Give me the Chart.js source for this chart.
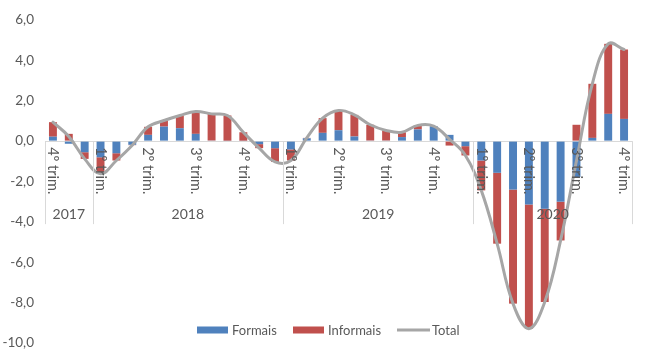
<!DOCTYPE html>
<html>
<head>
<meta charset="utf-8">
<script src="https://cdn.jsdelivr.net/npm/chart.js@4/dist/chart.umd.min.js"></script>
<style>
html,body{margin:0;padding:0;background:#fff;}
#c{display:block;}
</style>
</head>
<body>
<canvas id="c" width="650" height="353"></canvas>
<script>
// Category tick labels (one per month; quarter label every 3rd month)
const categories = [
  '4º trim.','','',
  '1º trim.','','','2º trim.','','','3º trim.','','','4º trim.','','',
  '1º trim.','','','2º trim.','','','3º trim.','','','4º trim.','','',
  '1º trim.','','','2º trim.','','','3º trim.','','','4º trim.'
];
const years = ['2017','2018','2019','2020'];
const yearCounts = [3, 12, 12, 10];
const seriesNames = ['Formais','Informais','Total'];

const formais = [
  0.22,-0.13,-0.55,
  -0.80,-0.60,-0.18,0.31,0.72,0.64,0.36,0.03,0.02,0.02,-0.15,-0.35,
  -0.41,0.14,0.41,0.54,0.23,0.03,0.03,0.20,0.58,0.74,0.31,-0.25,
  -0.96,-1.57,-2.40,-3.14,-3.35,-3.00,-1.78,0.16,1.35,1.10
];
const informais = [
  0.72,0.36,-0.33,
  -0.82,-0.36,-0.02,0.40,0.30,0.63,1.11,1.32,1.25,0.42,-0.20,-0.68,
  -0.55,0.02,0.73,0.98,1.07,0.78,0.50,0.24,0.20,0.00,-0.22,-0.46,
  -1.48,-3.51,-5.65,-6.15,-4.62,-1.92,0.81,2.68,3.47,3.44
];
const total = [
  0.94,0.23,-0.88,
  -1.62,-0.96,-0.20,0.71,1.02,1.27,1.47,1.35,1.27,0.44,-0.35,-1.03,
  -0.96,0.16,1.14,1.52,1.30,0.81,0.53,0.44,0.78,0.74,0.09,-0.71,
  -2.44,-5.08,-8.05,-9.29,-7.97,-4.92,-0.97,2.84,4.82,4.54
];

const BLUE = '#4F81BD', RED = '#C0504D', GREY = '#A6A6A6', TXT = '#595959';
const FONT = 'Lato, "Liberation Sans", sans-serif';

const decorations = {
  id: 'decorations',
  afterDatasetsDraw(chart) {
    const ctx = chart.ctx;
    const x = chart.scales.x, y = chart.scales.y;
    const y0 = y.getPixelForValue(0);
    ctx.save();
    // group separators
    ctx.strokeStyle = '#D9D9D9';
    ctx.lineWidth = 1;
    let idx = 0;
    const bounds = [-0.5];
    yearCounts.forEach(n => { idx += n; bounds.push(idx - 0.5); });
    const half = (x.getPixelForValue(1) - x.getPixelForValue(0)) / 2;
    bounds.forEach(b => {
      const px = Math.round(b < 0 ? x.getPixelForValue(0) - half : x.getPixelForValue(Math.floor(b)) + half) + 0.5;
      ctx.beginPath();
      ctx.moveTo(px, y0);
      ctx.lineTo(px, y0 + 83);
      ctx.stroke();
    });
    // rotated quarter labels
    ctx.fillStyle = TXT;
    ctx.font = '14.5px ' + FONT;
    ctx.textAlign = 'left';
    ctx.textBaseline = 'middle';
    categories.forEach((lab, i) => {
      if (!lab) return;
      const px = x.getPixelForValue(i);
      ctx.save();
      ctx.translate(px, y0 + 6);
      ctx.rotate(Math.PI / 2);
      ctx.fillText(lab, 0, 0);
      ctx.restore();
    });
    // year labels
    ctx.textAlign = 'center';
    ctx.font = '14px ' + FONT;
    for (let k = 0; k < years.length; k++) {
      const l = x.getPixelForValue(bounds[k] + 0.5) - half;
      const r = x.getPixelForValue(bounds[k + 1] - 0.5) + half;
      ctx.fillText(years[k], (l + r) / 2, y0 + 73);
    }
    // legend
    const ly = 330;
    const items = [
      {name: seriesNames[0], color: BLUE, type: 'box', x: 197},
      {name: seriesNames[1], color: RED, type: 'box', x: 293},
      {name: seriesNames[2], color: GREY, type: 'line', x: 397}
    ];
    ctx.textAlign = 'left';
    ctx.font = '13px ' + FONT;
    items.forEach(it => {
      if (it.type === 'box') {
        ctx.fillStyle = it.color;
        ctx.fillRect(it.x, ly - 3.5, 31, 7);
      } else {
        ctx.strokeStyle = it.color;
        ctx.lineWidth = 3;
        ctx.beginPath();
        ctx.moveTo(it.x, ly);
        ctx.lineTo(it.x + 33, ly);
        ctx.stroke();
      }
      ctx.fillStyle = TXT;
      ctx.fillText(it.name, it.x + 35, ly + 0.5);
    });
    ctx.restore();
  }
};

new Chart(document.getElementById('c'), {
  type: 'bar',
  data: {
    labels: categories,
    datasets: [
      {type: 'line', label: seriesNames[2], data: total, stack: 'total', order: 0,
       borderColor: GREY, borderWidth: 3, pointRadius: 0, tension: 0.4, fill: false,
       borderCapStyle: 'round', borderJoinStyle: 'round'},
      {type: 'bar', label: seriesNames[0], data: formais, stack: 'emp', order: 1,
       backgroundColor: BLUE, categoryPercentage: 0.5, barPercentage: 1.0},
      {type: 'bar', label: seriesNames[1], data: informais, stack: 'emp', order: 2,
       backgroundColor: RED, categoryPercentage: 0.5, barPercentage: 1.0}
    ]
  },
  options: {
    responsive: false,
    devicePixelRatio: 1,
    animation: false,
    layout: {padding: {top: 20, right: 18, bottom: 10, left: 0}},
    plugins: {legend: {display: false}, tooltip: {enabled: false}},
    scales: {
      x: {display: false, stacked: true, offset: true},
      y: {
        stacked: true, min: -10, max: 6,
        afterFit: s => { s.width = 45; },
        border: {display: false},
        grid: {
          drawTicks: true,
          tickLength: 11,
          tickColor: 'rgba(0,0,0,0)',
          color: c => (c.tick && c.tick.value === 0) ? '#D9D9D9' : 'rgba(0,0,0,0)',
          lineWidth: 1
        },
        ticks: {
          stepSize: 2, padding: 0, color: TXT,
          font: {family: FONT, size: 13.5},
          callback: v => v.toFixed(1).replace('.', ',')
        }
      }
    }
  },
  plugins: [decorations]
});
</script>
</body>
</html>
